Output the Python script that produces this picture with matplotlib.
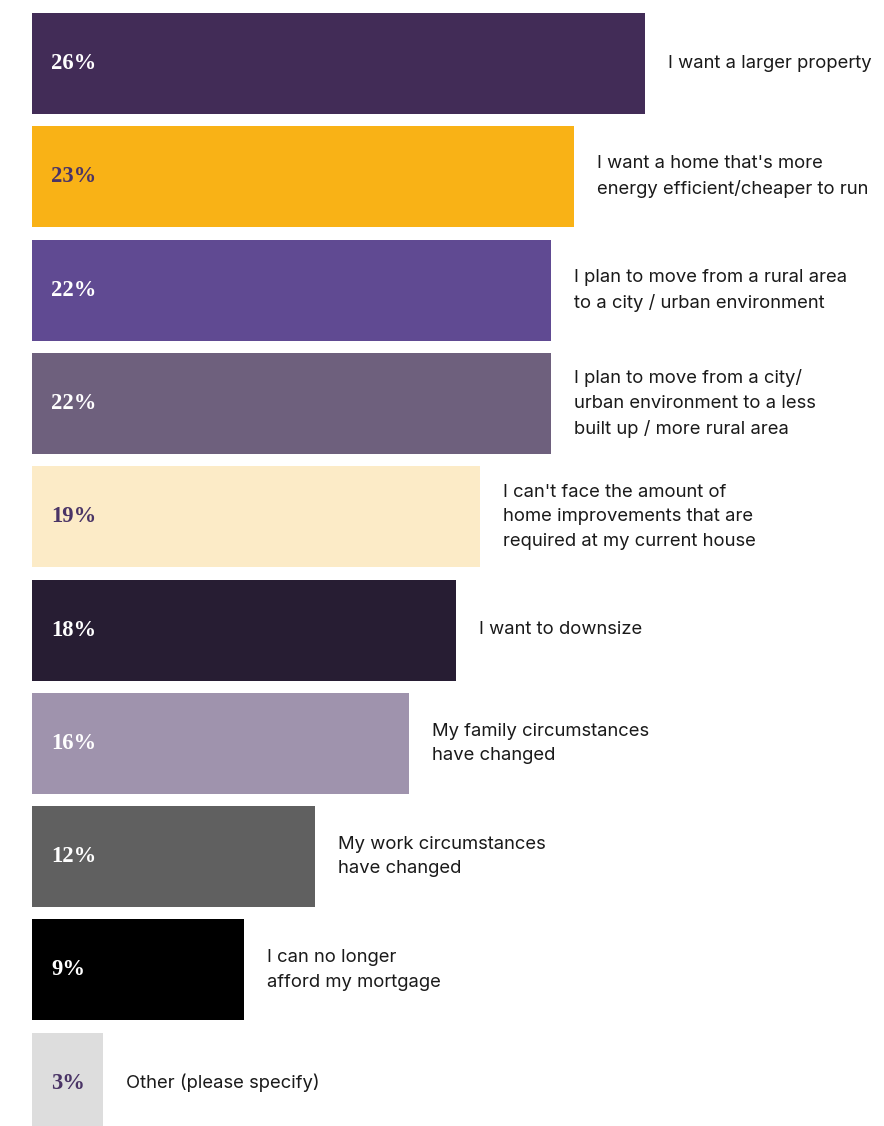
import matplotlib
matplotlib.use("Agg")
import matplotlib.pyplot as plt

categories = [
    "I want a larger property",
    "I want a home that's more\nenergy efficient/cheaper to run",
    "I plan to move from a rural area\nto a city / urban environment",
    "I plan to move from a city/\nurban environment to a less\nbuilt up / more rural area",
    "I can't face the amount of\nhome improvements that are\nrequired at my current house",
    "I want to downsize",
    "My family circumstances\nhave changed",
    "My work circumstances\nhave changed",
    "I can no longer\nafford my mortgage",
    "Other (please specify)",
]
values = [26, 23, 22, 22, 19, 18, 16, 12, 9, 3]
bar_colors = ["#422C57", "#F9B216", "#604A92", "#6E607D", "#FCEBC7",
              "#271D33", "#9F93AD", "#606060", "#000000", "#DDDDDD"]
value_colors = ["white", "#4A3466", "white", "white", "#4A3466",
                "white", "white", "white", "white", "#4A3466"]

W, H = 884, 1126
fig = plt.figure(figsize=(W / 100, H / 100), dpi=100)
left_px = 32
px_per_unit = 23.58
pitch = 113.3
ax = fig.add_axes([left_px / W, 0, (W - left_px) / W, 1])
ax.set_xlim(0, (W - left_px) / px_per_unit)
top = -63.5 / pitch
ax.set_ylim(top + H / pitch, top)
ax.axis("off")

ypos = list(range(len(values)))
ax.barh(ypos, values, height=101 / pitch, color=bar_colors, linewidth=0)

for y, v, c, lab in zip(ypos, values, value_colors, categories):
    ax.text(19 / px_per_unit, y, f"{v}%", color=c, va="center", ha="left",
            fontsize=16.3, fontweight="bold", family="Liberation Serif")
    ax.text(v + 23 / px_per_unit, y, lab, color="#1a1a1a", va="center", ha="left",
            fontsize=13.3, family="Inter", linespacing=1.58)

fig.savefig("out.png", dpi=100)
